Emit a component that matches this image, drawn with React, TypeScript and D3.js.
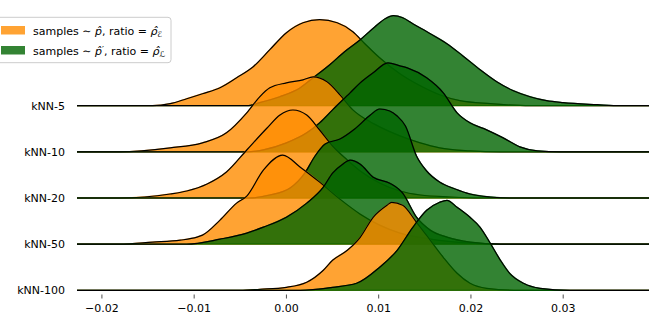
import React from "react";
import * as d3 from "d3";

// ---- data ----
const rowLabels = ["kNN-5", "kNN-10", "kNN-20", "kNN-50", "kNN-100"];
const xTicks = [-0.02, -0.01, 0.0, 0.01, 0.02, 0.03];

// orange series: samples ~ p̂
const orangeX = [
  [-0.0145, -0.0126, -0.0108, -0.0091, -0.0072, -0.0054, -0.0036, -0.0018, 0.0, 0.0018, 0.0036, 0.0055, 0.0072, 0.0085, 0.0101, 0.0123, 0.0145, 0.0166, 0.0188, 0.0221, 0.0264],
  [-0.0181, -0.0126, -0.0091, -0.0065, -0.0043, -0.0029, -0.0018, 0.0, 0.0018, 0.0029, 0.0044, 0.0058, 0.0072, 0.0087, 0.0101, 0.0123, 0.0145, 0.0166, 0.0199, 0.0232],
  [-0.0181, -0.0126, -0.0108, -0.0086, -0.0065, -0.0043, -0.0021, -0.0007, 0.0007, 0.0022, 0.0036, 0.005, 0.0066, 0.008, 0.0101, 0.0123, 0.0145, 0.0177, 0.021],
  [-0.0181, -0.0145, -0.0115, -0.0097, -0.0091, -0.0072, -0.0054, -0.0043, -0.0025, -0.0004, 0.0015, 0.0036, 0.0058, 0.008, 0.0101, 0.0123, 0.0156, 0.0199, 0.0232],
  [-0.005, -0.0029, 0.0, 0.0022, 0.004, 0.005, 0.0066, 0.008, 0.0094, 0.0109, 0.0114, 0.0126, 0.0141, 0.0156, 0.017, 0.0185, 0.0199, 0.0217, 0.0253],
];
const orangeDensity = [
  [0, 2, 7, 12, 18, 28, 39, 56, 73, 83, 86, 83, 74, 62, 48, 32, 20, 11, 5, 2, 0],
  [0, 4, 9, 19, 39, 55, 64, 69, 72, 75, 70, 57, 42, 32, 25, 16, 9, 4, 1, 0],
  [0, 4, 7, 14, 26, 48, 70, 83, 88, 83, 68, 52, 38, 27, 15, 7, 3, 1, 0],
  [0, 2, 4, 7, 9, 24, 41, 48, 74, 89, 77, 62, 45, 30, 19, 11, 5, 1, 0],
  [0, 1, 3, 8, 20, 30, 40, 53, 73, 85, 88, 85, 68, 50, 33, 17, 7, 2, 0],
];

// green series: samples ~ p̂'
const greenX = [
  [-0.0043, -0.0029, -0.0007, 0.0015, 0.0029, 0.0047, 0.0063, 0.008, 0.0096, 0.0107, 0.0116, 0.0126, 0.0137, 0.0156, 0.0174, 0.0191, 0.021, 0.0228, 0.0246, 0.0264, 0.0282, 0.03, 0.0337, 0.0362],
  [-0.0043, -0.0025, 0.0, 0.0022, 0.0036, 0.005, 0.0069, 0.008, 0.0094, 0.011, 0.0123, 0.0131, 0.0152, 0.017, 0.0185, 0.0199, 0.0217, 0.0235, 0.0253, 0.0272, 0.0297],
  [-0.004, -0.0018, 0.0004, 0.002, 0.0031, 0.0042, 0.0058, 0.0074, 0.0091, 0.0101, 0.0112, 0.012, 0.0129, 0.0141, 0.0152, 0.0166, 0.0183, 0.0199, 0.0221, 0.0242],
  [-0.0108, -0.0072, -0.0043, -0.0025, 0.0, 0.0022, 0.004, 0.005, 0.0061, 0.0069, 0.008, 0.0094, 0.0112, 0.0126, 0.0141, 0.0156, 0.0174, 0.0199, 0.0232],
  [0.0015, 0.005, 0.0076, 0.0101, 0.012, 0.0137, 0.0152, 0.0166, 0.0174, 0.0185, 0.0199, 0.021, 0.0221, 0.0232, 0.0242, 0.0257, 0.0275, 0.0307],
];
const greenDensity = [
  [0, 3, 9, 18, 28, 41, 54, 66, 79, 87, 90, 88, 82, 72, 62, 50, 36, 24, 15, 9, 5, 3, 1, 0],
  [0, 2, 9, 19, 29, 42, 59, 69, 79, 89, 86, 84, 74, 59, 39, 29, 22, 14, 5, 1, 0],
  [0, 3, 10, 25, 42, 54, 59, 69, 83, 89, 87, 82, 72, 42, 27, 16, 9, 4, 1, 0],
  [0, 5, 11, 17, 27, 41, 57, 71, 80, 84, 80, 67, 61, 51, 27, 14, 7, 2, 0],
  [0, 3, 7, 23, 40, 63, 80, 88, 90, 83, 73, 63, 47, 30, 17, 7, 2, 0],
];

const W = 664;
const H = 332;
const FONT = "'DejaVu Sans', 'Liberation Sans', sans-serif";
const ORANGE = "#ff8c00";
const GREEN = "#006400";
const ALPHA = 0.8;

export default function App() {
  const x = d3.scaleLinear().domain([-0.0227, 0.0393]).range([77, 649]);
  const row = d3.scalePoint<string>().domain(rowLabels).range([105.7, 290.3]);
  const h = d3.scaleLinear().domain([0, 100]).range([0, 100]);
  const [x0, x1] = x.domain();

  const series = (xs: number[], ds: number[]) => {
    const pts: [number, number][] = xs.map((v, i) => [v, ds[i]]);
    if (pts[0][0] > x0) pts.unshift([x0, 0]);
    if (pts[pts.length - 1][0] < x1) pts.push([x1, 0]);
    return pts;
  };

  const mk = (base: number) => {
    const area = d3
      .area<[number, number]>()
      .x((d) => x(d[0]))
      .y0(base)
      .y1((d) => base - h(d[1]))
      .curve(d3.curveMonotoneX);
    const line = d3
      .line<[number, number]>()
      .x((d) => x(d[0]))
      .y((d) => base - h(d[1]))
      .curve(d3.curveMonotoneX);
    return { area, line };
  };

  return (
    <svg
      width={W}
      height={H}
      style={{ position: "absolute", left: 0, top: 0, display: "block" }}
      fontFamily={FONT}
    >
      <rect width={W} height={H} fill="white" />
      {rowLabels.map((lab, i) => {
        const base = row(lab)!;
        const { area, line } = mk(base);
        const o = series(orangeX[i], orangeDensity[i]);
        const g = series(greenX[i], greenDensity[i]);
        return (
          <g key={lab}>
            <path d={area(o)!} fill={ORANGE} fillOpacity={ALPHA} stroke={ORANGE} strokeOpacity={ALPHA} strokeWidth={1.3} />
            <path d={line(o)!} fill="none" stroke="black" strokeWidth={1.2} />
            <path d={area(g)!} fill={GREEN} fillOpacity={ALPHA} stroke={GREEN} strokeOpacity={ALPHA} strokeWidth={1.3} />
            <path d={line(g)!} fill="none" stroke="black" strokeWidth={1.2} />
          </g>
        );
      })}
      {rowLabels.map((lab) => (
        <text
          key={lab}
          x={65}
          y={row(lab)! + 4}
          textAnchor="end"
          fontSize={11}
          fill="black"
        >
          {lab}
        </text>
      ))}
      {xTicks.map((t) => (
        <g key={t} transform={`translate(${x(t)},0)`}>
          <line y1={294.5} y2={298.5} stroke="#222" strokeWidth={0.8} />
          <text y={312} textAnchor="middle" fontSize={11} fill="black">
            {d3.format(".2f")(t).replace("-", "\u2212")}
          </text>
        </g>
      ))}
      <g>
        <rect x={-5} y={17.3} width={176} height={45.4} rx={3} fill="white" fillOpacity={0.8} stroke="#cccccc" strokeWidth={1} />
        <rect x={1} y={26} width={24} height={8.5} fill={ORANGE} fillOpacity={ALPHA} />
        <rect x={1} y={46} width={24} height={8.5} fill={GREEN} fillOpacity={ALPHA} />
        <text x={33} y={34.5} fontSize={11} fill="black">
          samples ∼ <tspan fontStyle="italic">p̂</tspan>, ratio = <tspan fontStyle="italic">ρ̂</tspan>
          <tspan fontSize={8} dy={2.5}>ℰ</tspan>
        </text>
        <text x={33} y={54.5} fontSize={11} fill="black">
          samples ∼ <tspan fontStyle="italic">p̂</tspan><tspan fontSize={9} dy={-2}>′</tspan><tspan dy={2}>, ratio = </tspan><tspan fontStyle="italic">ρ̂</tspan>
          <tspan fontSize={8} dy={2.5}>ℒ</tspan>
        </text>
      </g>
    </svg>
  );
}
